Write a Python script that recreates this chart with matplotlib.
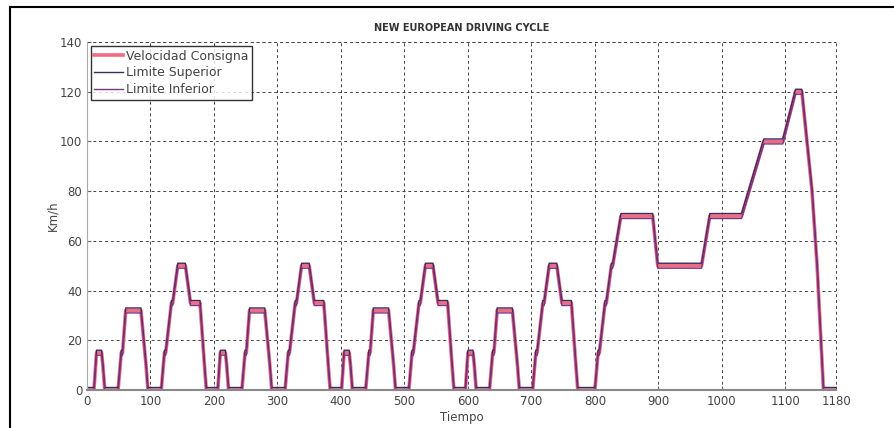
import numpy as np
import matplotlib.pyplot as plt
from matplotlib.lines import Line2D

# NEDC: 4 urban (ECE-15) cycles + 1 extra-urban (EUDC) cycle
tiempo = [0, 11, 15, 23, 25, 28, 49, 54, 56, 61, 85, 93, 96, 117, 122, 124, 133, 135, 143, 155, 163, 176, 178, 185, 188, 195,
          206, 210, 218, 220, 223, 244, 249, 251, 256, 280, 288, 291, 312, 317, 319, 328, 330, 338, 350, 358, 371, 373, 380, 383, 390,
          401, 405, 413, 415, 418, 439, 444, 446, 451, 475, 483, 486, 507, 512, 514, 523, 525, 533, 545, 553, 566, 568, 575, 578, 585,
          596, 600, 608, 610, 613, 634, 639, 641, 646, 670, 678, 681, 702, 707, 709, 718, 720, 728, 740, 748, 761, 763, 770, 773, 780,
          800, 805, 807, 816, 818, 826, 828, 841, 891, 899, 968, 981, 1031, 1066, 1096, 1116, 1126, 1142, 1150, 1160, 1180]
urbano = [0, 15, 15, 10, 0, 0, 15, 15, 32, 32, 10, 0, 0, 15, 15, 35, 35, 50, 50, 35, 35, 35, 10, 0, 0]
extraurbano = [0, 15, 15, 35, 35, 50, 50, 70, 70, 50, 50, 70, 70, 100, 100, 120, 120, 80, 50, 0, 0]
velocidad = [0] + urbano * 4 + extraurbano
tolerancia = 1.0  # km/h

t = np.array(tiempo)
v = np.array(velocidad, dtype=float)
superior = v + tolerancia
inferior = v - tolerancia

fig = plt.figure(figsize=(8.94, 4.28), dpi=100)
ax = fig.add_axes([0.0973, 0.0888, 0.838, 0.813])

ax.plot(t, v, color='#f06a82', lw=2.6, label='Velocidad Consigna')
ax.plot(t, superior, color='#3a2a5e', lw=1.0, label='Limite Superior')
ax.plot(t, inferior, color='#7a3580', lw=1.0, label='Limite Inferior')

ax.set_xlim(0, 1180)
ax.set_ylim(0, 140)
ax.set_xticks(list(range(0, 1101, 100)) + [1180])
ax.set_yticks(range(0, 141, 20))
ax.tick_params(direction='in', labelsize=8.5, labelcolor='#444444', length=3, color='#666666')
ax.grid(True, color='#444444', linestyle=(0, (3, 3)), linewidth=0.7)
ax.spines['top'].set_visible(False)
ax.spines['right'].set_visible(False)
ax.spines['left'].set_color('#aaaaaa')
ax.spines['bottom'].set_color('#888888')
ax.spines['bottom'].set_linewidth(1.5)
# dashed grid lines on the top and right edges
ax.axhline(140, color='#444444', linestyle=(0, (3, 3)), linewidth=0.7, clip_on=False)
ax.axvline(1180, color='#444444', linestyle=(0, (3, 3)), linewidth=0.7, clip_on=False)

ax.set_title('NEW EUROPEAN DRIVING CYCLE', fontsize=7, fontweight='bold', color='#333333', pad=8)
ax.set_xlabel('Tiempo', fontsize=8.5, color='#444444', labelpad=2)
ax.set_ylabel('Km/h', fontsize=8.5, color='#444444', labelpad=0)

leg = ax.legend(loc='upper left', fontsize=9, frameon=True, fancybox=False,
                borderpad=0.3, labelspacing=0.3, handlelength=2.3, handletextpad=0.2,
                borderaxespad=0.3)
leg.get_frame().set_edgecolor('black')
leg.get_frame().set_linewidth(1.0)
for txt in leg.get_texts():
    txt.set_color('#444444')

# image frame (top and left edges)
fig.add_artist(Line2D([10 / 894, 1], [1 - 7 / 428, 1 - 7 / 428], color='black', lw=1.5))
fig.add_artist(Line2D([10 / 894, 10 / 894], [0, 1 - 7 / 428], color='black', lw=1.5))

fig.savefig('out.png', dpi=100)
